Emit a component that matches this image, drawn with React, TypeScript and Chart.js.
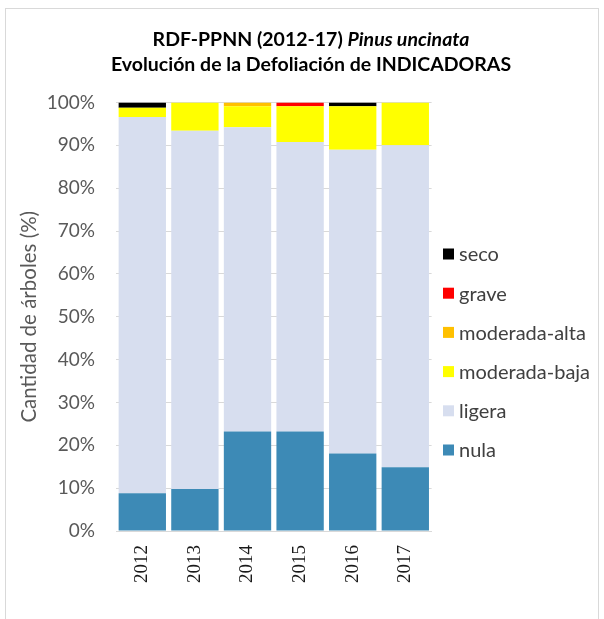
import React, { useEffect, useRef } from "react";
import { Chart, registerables } from "chart.js";

Chart.register(...registerables);

const years = ["2012", "2013", "2014", "2015", "2016", "2017"];
const nula = [8.8, 9.8, 23.2, 23.2, 18.1, 14.9];
const ligera = [87.8, 83.6, 71.0, 67.6, 70.9, 75.1];
const moderadaBaja = [2.2, 6.6, 4.9, 8.3, 10.1, 10.0];
const moderadaAlta = [0, 0, 0.9, 0, 0, 0];
const grave = [0, 0, 0, 0.9, 0, 0];
const seco = [1.2, 0, 0, 0, 0.9, 0];
const yTicks = [0, 10, 20, 30, 40, 50, 60, 70, 80, 90, 100];

const titleLine1Plain = "RDF-PPNN (2012-17) ";
const titleLine1Italic = "Pinus uncinata";
const titleLine2 = "Evolución de la Defoliación de INDICADORAS";
const yAxisTitle = "Cantidad de árboles (%)";

const FONT = "Lato, 'Open Sans', sans-serif";

const titlePlugin = {
  id: "customTitle",
  afterDraw(chart: any) {
    const ctx = chart.ctx;
    const cx = 311;
    ctx.save();
    ctx.fillStyle = "#000000";
    ctx.textBaseline = "middle";
    ctx.textAlign = "left";
    const bold = `bold 19.5px ${FONT}`;
    const boldItalic = `italic bold 19.5px ${FONT}`;
    ctx.font = bold;
    const w1 = ctx.measureText(titleLine1Plain).width;
    ctx.font = boldItalic;
    const w2 = ctx.measureText(titleLine1Italic).width;
    const start = cx - (w1 + w2) / 2;
    ctx.font = bold;
    ctx.fillText(titleLine1Plain, start, 40);
    ctx.font = boldItalic;
    ctx.fillText(titleLine1Italic, start + w1, 40);
    ctx.font = bold;
    ctx.textAlign = "center";
    ctx.fillText(titleLine2, cx, 65);
    ctx.restore();
  },
};

const legendPlugin = {
  id: "customLegend",
  afterDraw(chart: any) {
    const ctx = chart.ctx;
    const ds = chart.data.datasets.slice().reverse();
    ctx.save();
    ctx.font = `20px ${FONT}`;
    ctx.textBaseline = "middle";
    ctx.textAlign = "left";
    ds.forEach((d: any, i: number) => {
      const y = 254 + i * 39.2;
      ctx.fillStyle = d.backgroundColor;
      ctx.fillRect(443, y - 5.5, 11, 11);
      ctx.fillStyle = "#404040";
      ctx.fillText(d.label, 459, y + 1);
    });
    ctx.restore();
  },
};

export default function App() {
  const ref = useRef<HTMLCanvasElement>(null);
  useEffect(() => {
    if (!ref.current) return;
    const chart = new Chart(ref.current, {
      type: "bar",
      data: {
        labels: years,
        datasets: [
          { label: "nula", data: nula, backgroundColor: "#3D8AB6" },
          { label: "ligera", data: ligera, backgroundColor: "#D7DEEF" },
          { label: "moderada-baja", data: moderadaBaja, backgroundColor: "#FFFF00" },
          { label: "moderada-alta", data: moderadaAlta, backgroundColor: "#FFC000" },
          { label: "grave", data: grave, backgroundColor: "#FF0000" },
          { label: "seco", data: seco, backgroundColor: "#000000" },
        ],
      },
      options: {
        responsive: false,
        animation: false,
        devicePixelRatio: 1,
        layout: { padding: { top: 102.5, right: 172.4, bottom: 0, left: 0 } },
        datasets: { bar: { barPercentage: 0.9, categoryPercentage: 1, borderWidth: 0 } },
        plugins: { legend: { display: false }, tooltip: { enabled: false }, title: { display: false } },
        scales: {
          x: {
            stacked: true,
            grid: { display: false, drawTicks: false },
            border: { display: true, color: "#d9d9d9" },
            ticks: {
              minRotation: 90,
              maxRotation: 90,
              padding: 14,
              color: "#1a1a1a",
              font: { family: "'Liberation Serif', serif", size: 19 },
            },
            afterFit: (s: any) => {
              s.height = 88;
            },
          },
          y: {
            stacked: true,
            min: 0,
            max: 100,
            afterBuildTicks: (s: any) => {
              s.ticks = yTicks.map((v) => ({ value: v }));
            },
            grid: { color: "#d9d9d9", drawTicks: false },
            border: { display: false },
            ticks: {
              padding: 21,
              color: "#595959",
              font: { family: FONT, size: 19 },
              callback: (v: any) => v + "%",
            },
            title: {
              display: true,
              text: yAxisTitle,
              color: "#595959",
              font: { family: FONT, size: 20.5 },
              padding: { top: 17.5, bottom: 0 },
            },
            afterFit: (s: any) => {
              s.width = 116;
            },
          },
        },
      },
      plugins: [titlePlugin, legendPlugin],
    });
    return () => chart.destroy();
  }, []);

  return (
    <div style={{ position: "absolute", left: 0, top: 0, width: 604, height: 619, background: "#fff", overflow: "hidden" }}>
      <div style={{ position: "absolute", left: 5, top: 8, width: 594, height: 640, border: "1px solid #d9d9d9", boxSizing: "border-box" }} />
      <canvas ref={ref} width={604} height={619} style={{ position: "absolute", left: 0, top: 0 }} />
    </div>
  );
}
